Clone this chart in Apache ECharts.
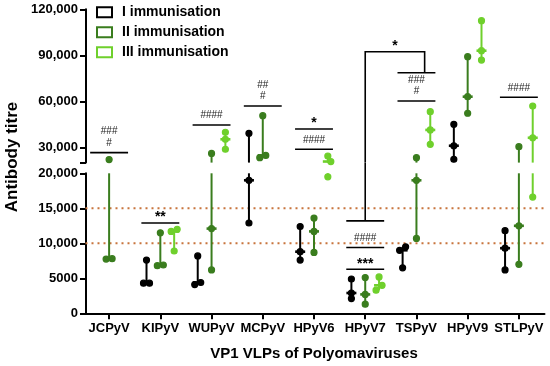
<!DOCTYPE html>
<html>
<head>
<meta charset="utf-8">
<script src="https://cdn.jsdelivr.net/npm/echarts@6/dist/echarts.min.js"></script>
<style>html,body{margin:0;padding:0;background:#fff}#c{width:550px;height:366px}</style>
</head>
<body>
<div id="c"></div>
<script>
// ---------------- data ----------------
const categories = ['JCPyV','KIPyV','WUPyV','MCPyV','HPyV6','HPyV7','TSPyV','HPyV9','STLPyV'];
const seriesNames = ['I immunisation','II immunisation','III immunisation'];
// three titres per group (null = not measured)
const immunisation1 = [
  null,
  [4300, 4300, 7600],
  [4100, 4400, 8200],
  [12900, 19000, 39100],
  [7600, 8800, 12400],
  [2100, 2900, 4900],
  [6500, 9000, 9500],
  [22200, 31000, 45000],
  [6200, 9300, 11800]
];
const immunisation2 = [
  [7750, 7800, 22000],
  [6800, 6900, 11500],
  [6200, 12100, 26000],
  [23200, 24700, 50600],
  [8700, 11700, 13600],
  [1300, 2700, 5100],
  [10700, 19000, 23200],
  [52200, 63000, 89100],
  [7000, 12500, 30400]
];
const immunisation3 = [
  null,
  [8900, 11700, 12000],
  [28700, 35200, 39800],
  null,
  [19500, 20700, 24300],
  [3300, 4000, 5200],
  [31900, 41300, 53200],
  [86900, 93000, 112600],
  [16600, 36200, 56900]
];
const thresholds = [10000, 15000];
const upperTicks = [30000, 60000, 90000, 120000];
const lowerTicks = [0, 5000, 10000, 15000, 20000];
// significance bars: category, level, labels stacked above
const sigCats   = [0, 1, 2, 3, 4, 4, 5, 5, 5, 6, 6, 8];
const sigValues = [26500, 12900, 44500, 56900, 41900, 28700, 6300, 9400, 13200, 78600, 60200, 62600];
const sigLabels = [['###','#'], ['**'], ['####'], ['##','#'], ['*'], ['####'], ['***'], ['####'], [], [], ['###','#'], ['####']];
// bracket HPyV7 -> TSPyV
const bracketFrom = [5, 13200];
const bracketTo = [6, 78600];
const bracketTop = 92300;
const bracketLabel = '*';

// ---------------- layout / style ----------------
const FONT = '"Liberation Sans", Arial, sans-serif';
const COLORS = ['#000000', '#3a7d1e', '#6fd02c'];
const OFFS = [-0.27, 0, 0.27];
const UP_TOP = 9.3, UP_H = 153.3, LO_TOP = 173.3, LO_H = 140;
const GAP = LO_TOP - (UP_TOP + UP_H);
const RANGES = [[20000, 120000], [0, 20000]];
const DROP_OFF = 0.16;

function fmt(v) {
  if (v < 10000) return String(v);
  return String(v).replace(/\B(?=(\d{3})+(?!\d))/g, ',');
}

function groupRender(color, offFrac, yMin, yMax) {
  return function (params, api) {
    const cat = api.value(0);
    const vals = [api.value(1), api.value(2), api.value(3)].sort((a, b) => a - b);
    const band = api.size([1, 0])[0];
    const cx = api.coord([cat, yMin])[0] + offFrac * band;
    const cy = v => api.coord([cat, Math.min(yMax, Math.max(yMin, v))])[1];
    const inR = v => v >= yMin && v <= yMax;
    const ch = [];
    const lo = vals[0], med = vals[1], hi = vals[2];
    if (hi >= yMin && lo <= yMax) {
      ch.push({type: 'line', shape: {x1: cx, y1: cy(lo), x2: cx, y2: cy(hi)}, style: {stroke: color, lineWidth: 2}});
    }
    if (inR(med)) {
      ch.push({type: 'rect', shape: {x: cx - 5, y: cy(med) - 1.3, width: 10, height: 2.6}, style: {fill: color}});
    }
    const py = vals.map(v => api.coord([cat, v])[1]);
    const offs = [0, 0, 0];
    let i = 0;
    while (i < 3) {
      let j = i;
      while (j + 1 < 3 && Math.abs(py[j + 1] - py[j]) < 5) j++;
      const n = j - i + 1;
      for (let k = i; k <= j; k++) offs[k] = (k - i - (n - 1) / 2) * 6;
      i = j + 1;
    }
    vals.forEach((v, k) => {
      if (inR(v)) ch.push({type: 'circle', shape: {cx: cx + offs[k], cy: py[k], r: 3}, style: {fill: color, stroke: color, lineWidth: 1.2}});
    });
    return {type: 'group', children: ch};
  };
}

function labelNode(text, x, y) {
  const star = text.indexOf('*') >= 0;
  return {type: 'text', x: x, y: star ? y + 4 : y,
    style: {text: text, textAlign: 'center', textVerticalAlign: 'middle',
      font: star ? 'bold 14px ' + FONT : '10px ' + FONT, fill: star ? '#000' : '#222'}};
}

function sigRender(params, api) {
  const cat = api.value(0), v = api.value(1), k = api.value(2);
  const band = api.size([1, 0])[0];
  const p = api.coord([cat, v]);
  const half = 0.37 * band;
  const ch = [{type: 'line', shape: {x1: p[0] - half, y1: p[1], x2: p[0] + half, y2: p[1]}, style: {stroke: '#000', lineWidth: 1.6}}];
  const labs = sigLabels[k];
  const n = labs.length;
  labs.forEach((t, m) => ch.push(labelNode(t, p[0], p[1] - 9.5 - (n - 1 - m) * 11.7)));
  return {type: 'group', children: ch};
}

const series = [];
// threshold dotted lines (lower grid)
series.push({
  type: 'custom', xAxisIndex: 1, yAxisIndex: 1, z: 1, silent: true,
  data: thresholds.map(v => [0, v]),
  renderItem: function (params, api) {
    const y = api.coord([0, api.value(1)])[1];
    const cs = params.coordSys;
    return {type: 'line', shape: {x1: cs.x + 2, y1: y, x2: cs.x + cs.width, y2: y},
      style: {stroke: '#c8743c', lineWidth: 2, lineDash: [2, 4]}};
  }
});
const groups = [immunisation1, immunisation2, immunisation3];
groups.forEach((arr, s) => {
  const data = arr.map((v, i) => v ? [i, v[0], v[1], v[2]] : null).filter(Boolean);
  [0, 1].forEach(g => {
    series.push({
      type: 'custom', name: seriesNames[s], xAxisIndex: g, yAxisIndex: g, z: 3,
      encode: {x: 0, y: [1, 2, 3]}, clip: false, data: data,
      renderItem: groupRender(COLORS[s], OFFS[s], RANGES[g][0], RANGES[g][1])
    });
  });
});
// significance bars
[0, 1].forEach(g => {
  const data = sigCats.map((c, k) => [c, sigValues[k], k])
    .filter(d => g === 0 ? d[1] >= 20000 : d[1] < 20000);
  series.push({type: 'custom', xAxisIndex: g, yAxisIndex: g, z: 4, clip: false, silent: true,
    data: data, renderItem: sigRender});
});
// bracket lower piece
series.push({type: 'custom', xAxisIndex: 1, yAxisIndex: 1, z: 4, clip: false, silent: true,
  data: [[bracketFrom[0], bracketFrom[1]]],
  renderItem: function (params, api) {
    const p = api.coord([api.value(0), api.value(1)]);
    const t = api.coord([api.value(0), RANGES[1][1]]);
    return {type: 'line', shape: {x1: p[0], y1: p[1], x2: p[0], y2: t[1] - GAP}, style: {stroke: '#000', lineWidth: 1.6}};
  }});
// bracket upper piece
series.push({type: 'custom', xAxisIndex: 0, yAxisIndex: 0, z: 4, clip: false, silent: true,
  data: [[bracketFrom[0], RANGES[0][0], bracketTo[0], bracketTo[1], bracketTop]],
  renderItem: function (params, api) {
    const band = api.size([1, 0])[0];
    const a = api.coord([api.value(0), api.value(1)]);
    const top = api.coord([api.value(0), api.value(4)]);
    const b = api.coord([api.value(2), api.value(3)]);
    const xb = b[0] + DROP_OFF * band;
    return {type: 'group', children: [
      {type: 'polyline', shape: {points: [[a[0], a[1]], [a[0], top[1]], [xb, top[1]], [xb, b[1]]]},
        style: {stroke: '#000', lineWidth: 1.6, fill: null}},
      labelNode(bracketLabel, (a[0] + xb) / 2, top[1] - 9.5)
    ]};
  }});

const axisCommon = {
  axisLine: {show: true, lineStyle: {color: '#000', width: 2}},
  axisTick: {show: true, length: 6, lineStyle: {color: '#000', width: 2}},
  splitLine: {show: false}
};
const labelCommon = {color: '#000', fontWeight: 'bold', fontSize: 13, fontFamily: FONT};

const option = {
  animation: false,
  backgroundColor: '#fff',
  legend: {
    orient: 'vertical', left: 96, top: 5.3, padding: 0, itemGap: 6,
    itemWidth: 15, itemHeight: 10, selectedMode: false,
    textStyle: {fontSize: 14, fontWeight: 'bold', fontFamily: FONT, color: '#000', lineHeight: 14, padding: [0, 0, 0, 5]},
    data: seriesNames.map((n, i) => ({name: n, icon: 'rect',
      itemStyle: {color: '#fff', borderColor: COLORS[i], borderWidth: 2}}))
  },
  grid: [
    {left: 83.5, right: 5.5, top: UP_TOP, height: UP_H},
    {left: 83.5, right: 5.5, top: LO_TOP, height: LO_H}
  ],
  xAxis: [
    {gridIndex: 0, type: 'category', data: categories, show: false},
    Object.assign({}, axisCommon, {
      gridIndex: 1, type: 'category', data: categories,
      axisTick: {show: true, alignWithLabel: true, length: 6, lineStyle: {color: '#000', width: 2}},
      axisLabel: Object.assign({}, labelCommon, {margin: 9, interval: 0}),
      name: 'VP1 VLPs of Polyomaviruses', nameLocation: 'middle', nameGap: 33,
      nameTextStyle: {color: '#000', fontWeight: 'bold', fontSize: 15, fontFamily: FONT}
    })
  ],
  yAxis: [
    Object.assign({}, axisCommon, {
      gridIndex: 0, type: 'value', min: RANGES[0][0], max: RANGES[0][1], offset: -2.5,
      axisTick: {show: true, length: 6, lineStyle: {color: '#000', width: 2}, customValues: [RANGES[0][0]].concat(upperTicks)},
      axisLabel: Object.assign({}, labelCommon, {margin: 8, customValues: upperTicks, formatter: fmt})
    }),
    Object.assign({}, axisCommon, {
      gridIndex: 1, type: 'value', min: RANGES[1][0], max: RANGES[1][1], offset: -2.5,
      axisTick: {show: true, length: 6, lineStyle: {color: '#000', width: 2}, customValues: lowerTicks},
      axisLabel: Object.assign({}, labelCommon, {margin: 8, customValues: lowerTicks, formatter: fmt})
    })
  ],
  graphic: [{
    type: 'text', x: 12.5, y: 157, rotation: Math.PI / 2,
    style: {text: 'Antibody titre', font: 'bold 17px ' + FONT, textAlign: 'center', textVerticalAlign: 'middle', fill: '#000'}
  }],
  series: series
};
const chart = echarts.init(document.getElementById('c'), null, {renderer: 'canvas'});
chart.setOption(option);
</script>
</body>
</html>
